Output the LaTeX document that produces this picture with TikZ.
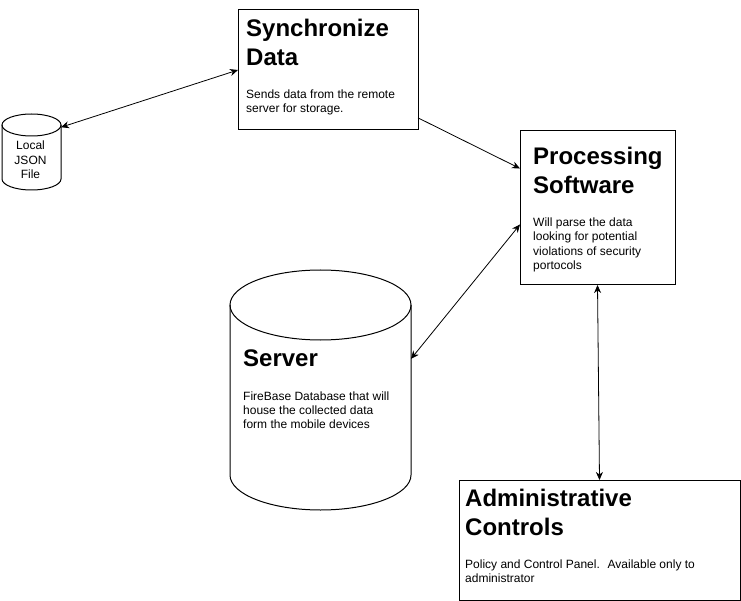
\documentclass[tikz,border=0pt]{standalone}
\usepackage{fontspec}
\setmainfont{Liberation Sans}
\usepackage{tikz}
\usetikzlibrary{arrows.meta}
\usetikzlibrary{positioning}

\begin{document}
\begin{tikzpicture}[x=1pt, y=1pt, block/.style={rectangle, draw, line width=1pt, inner sep=0pt, outer sep=0pt, anchor=north west}, hidden/.style={rectangle, inner sep=0pt, outer sep=0pt}, title/.style={anchor=base west, inner sep=0pt, align=left, font=\fontsize{24}{28.8}\selectfont\bfseries}, body/.style={anchor=base west, inner sep=0pt, align=left, font=\fontsize{12}{14.3}\selectfont}, arrow/.style={line width=0.8pt, -{Stealth[length=8pt, width=7pt, inset=2.5pt]}}, dbl/.style={line width=0.8pt, {Stealth[length=8pt, width=7pt, inset=2.5pt]}-{Stealth[length=8pt, width=7pt, inset=2.5pt]}}]
\useasboundingbox (0,0) rectangle (741,-601);
% boxes
\node [block, minimum width=180pt, minimum height=120pt] (sync) at (238,-10) {};
\node [block, minimum width=155pt, minimum height=154pt] (proc) at (520,-131) {};
\node [block, minimum width=281pt, minimum height=120pt] (admin) at (459,-480) {};
% cylinders
\node [hidden, minimum width=59pt, minimum height=76pt] (json) at (31.5,-152) {};
\node [hidden, minimum width=181pt, minimum height=240pt] (srv) at (320.5,-390) {};
\draw [line width=1pt] (json.north west) ++(0,-11) -- ++(0,-54) arc [start angle=180, end angle=360, x radius=29.5pt, y radius=11pt] -- ++(0,54);
\draw [line width=1pt] ([yshift=-11pt]json.north) ellipse [x radius=29.5pt, y radius=11pt];
\draw [line width=1pt] (srv.north west) ++(0,-35) -- ++(0,-170) arc [start angle=180, end angle=360, x radius=90.5pt, y radius=35pt] -- ++(0,170);
\draw [line width=1pt] ([yshift=-35pt]srv.north) ellipse [x radius=90.5pt, y radius=35pt];
% texts (base = last line)
\node [title] (synctitle) at (246,-65.5) {Synchronize\\Data};
\node [body] (synctext) at (246,-113) {Sends data from the remote\\server for storage.};
\node [title] (proctitle) at (533,-193.5) {Processing\\Software};
\node [body] (proctext) at (533,-269.5) {Will parse the data\\looking for potential\\violations of security\\portocols};
\node [title] (srvtitle) at (243,-366.7) {Server};
\node [body] (srvtext) at (243,-428.8) {FireBase Database that will\\house the collected data\\form the mobile devices};
\node [title] (admintitle) at (465,-535.5) {Administrative\\Controls};
\node [body] (admintext) at (465,-582.7) {Policy and Control Panel.~ Available only to\\administrator};
\node [body, anchor=base, align=center] (jsontext) at (30.5,-178.5) {Local\\JSON\\File};
% connectors
\draw [dbl] (json.40) -- (sync.west);
\draw [arrow] (sync.-28) -- (proc.153);
\draw [dbl] (proc.192) -- (srv.19);
\draw [dbl] (proc.south) -- (admin.north);
\end{tikzpicture}
\end{document}
